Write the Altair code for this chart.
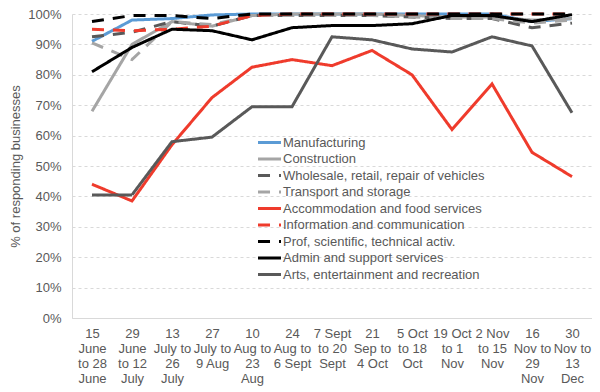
import altair as alt
import pandas as pd

periods = ["15|June|to 28|June", "29|June|to 12|July", "13|July to|26|July", "27|July to|9 Aug",
           "10|Aug to|23|Aug", "24|Aug to|6 Sept", "7 Sept|to 20|Sept", "21|Sep to|4 Oct",
           "5 Oct|to 18|Oct", "19 Oct|to 1|Nov", "2 Nov|to 15|Nov", "16|Nov to|29|Nov",
           "30|Nov to|13|Dec"]

series_names = ["Manufacturing", "Construction", "Wholesale, retail, repair of vehicles",
                "Transport and storage", "Accommodation and food services",
                "Information and communication", "Prof, scientific, technical activ.",
                "Admin and support services", "Arts, entertainment and recreation"]

manufacturing = [91, 98, 98.5, 99.7, 100, 100, 100, 100, 100, 100, 100, 97.5, 98.5]
construction = [68, 90, 97.5, 96, 99.5, 100, 100, 100, 99.5, 99, 99, 98, 98.5]
wholesale = [92.5, 94, 97.5, 96, 99.5, 99.5, 99.5, 99.5, 99, 98.5, 98.5, 95.5, 97]
transport = [90.5, 85, 97.5, 96.5, 99.5, 99.5, 99.5, 99.5, 99, 98.5, 98.5, 97, 98]
accommodation = [44, 38.5, 57, 72.5, 82.5, 85, 83, 88, 80, 62, 77, 54.5, 46.5]
information = [95, 94.5, 95, 96, 99.5, 100, 100, 100, 100, 100, 100, 100, 100]
prof = [97.5, 99.5, 99.5, 98.5, 100, 100, 100, 100, 100, 100, 100, 100, 100]
admin = [81, 89, 95, 94.5, 91.5, 95.5, 96.2, 96.2, 96.8, 99.5, 99.5, 97.5, 99.8]
arts = [40.5, 40.5, 58, 59.5, 69.5, 69.5, 92.5, 91.5, 88.5, 87.5, 92.5, 89.5, 67.5]

colors = ["#5B9BD5", "#A5A5A5", "#595959", "#A5A5A5", "#EF3B2C",
          "#EF3B2C", "#000000", "#000000", "#595959"]
dashes = [[1, 0], [1, 0], [12, 9], [12, 9], [1, 0], [12, 9], [12, 9], [1, 0], [1, 0]]

all_values = [manufacturing, construction, wholesale, transport, accommodation,
              information, prof, admin, arts]

rows = []
for i, (name, vals) in enumerate(zip(series_names, all_values)):
    for j, (p, v) in enumerate(zip(periods, vals)):
        rows.append({"series": name, "order": i, "period": p, "value": v})
df = pd.DataFrame(rows)

text_color = "#595959"
FONT = "Liberation Sans"

legend_props = dict(title=None, orient="none", legendX=190, legendY=121,
                    symbolType="M-2,0H2", symbolSize=132, symbolStrokeWidth=3,
                    labelFontSize=13, labelFont=FONT, labelColor=text_color,
                    rowPadding=1.5, labelOffset=6, padding=0, labelLimit=400)

chart = alt.Chart(df).mark_line(strokeWidth=3).encode(
    x=alt.X("period:N", sort=periods, title=None,
            scale=alt.Scale(paddingInner=1, paddingOuter=0.5),
            axis=alt.Axis(labelAngle=0, labelExpr="split(datum.label, '|')",
                          labelBaseline="top", labelLineHeight=15, labelPadding=9,
                          labelOverlap=False, ticks=False, domainColor="#D9D9D9",
                          labelColor=text_color, labelFontSize=13, labelFont=FONT)),
    y=alt.Y("value:Q", title="% of responding businesses",
            scale=alt.Scale(domain=[0, 100], nice=False),
            axis=alt.Axis(values=list(range(0, 101, 10)), labelExpr="datum.value + '%'",
                          ticks=False, labelPadding=11, grid=True, gridDash=[3, 3],
                          gridColor="#D9D9D9", domainColor="#D9D9D9",
                          labelColor=text_color, labelFontSize=13, labelFont=FONT,
                          titleColor=text_color, titleFontSize=13, titleFont=FONT,
                          titleFontWeight="normal", titlePadding=5)),
    color=alt.Color("series:N", scale=alt.Scale(domain=series_names, range=colors),
                    legend=alt.Legend(**legend_props)),
    strokeDash=alt.StrokeDash("series:N", scale=alt.Scale(domain=series_names, range=dashes),
                              legend=alt.Legend(**legend_props)),
    order=alt.Order("order:Q"),
).properties(
    width=520, height=304,
    autosize=alt.AutoSizeParams(type="none"),
    padding={"left": 64, "top": 6, "right": 0, "bottom": 70},
).configure_view(stroke=None)

chart.save("out.html", embed_options={"renderer": "svg", "actions": False})
